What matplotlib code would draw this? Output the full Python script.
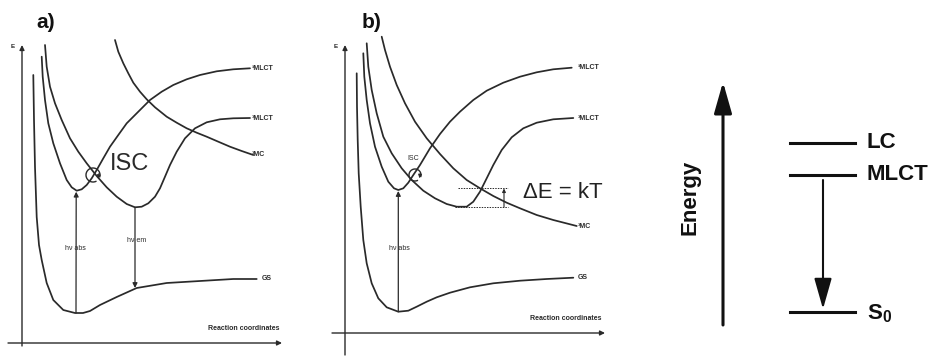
import matplotlib
matplotlib.use("Agg")
import matplotlib.pyplot as plt
from matplotlib.patches import Arc

plt.rcParams['font.family'] = ['Liberation Sans', 'DejaVu Sans']
plt.rcParams['mathtext.fontset'] = 'custom'
plt.rcParams['mathtext.rm'] = 'Liberation Sans'
plt.rcParams['mathtext.bf'] = 'Liberation Sans:bold'

# ---- potential energy curves, panel a (canvas pixel coordinates: x right, y down) ----
a_gs = [(33.3, 75), (34, 120), (35, 167), (36.7, 217), (39, 245), (41.7, 260), (46.7, 283),
        (53.3, 300), (63.3, 310), (75, 313), (83, 313), (90, 311), (100, 305), (116.7, 297),
        (136.7, 288), (166.7, 283), (200, 281), (233.3, 279), (256.7, 279)]
a_1mlct = [(41.7, 56.7), (42.7, 76.7), (45, 100), (48.3, 123.3), (53.3, 143.3), (60, 163.3),
           (66.7, 180), (71.7, 187.3), (76.7, 190.7), (81.7, 189.3), (86.7, 185), (91.7, 178.3),
           (96.7, 170), (103.3, 158.3), (110, 146.7), (118.3, 135), (126.7, 123.3), (138.3, 111.7),
           (150, 100), (161.7, 91.7), (173.3, 85), (186.7, 79.3), (200, 75), (216.7, 71.3),
           (233.3, 69.3), (250, 68.3)]
a_3mlct = [(45, 45), (46.7, 66.7), (50, 86.7), (55, 103.3), (61.7, 120), (70, 138.3), (78.3, 151.7),
           (86.7, 163.3), (96.7, 176), (106.7, 187.3), (116.7, 196.7), (126.7, 204), (135, 207.3),
           (141.7, 206.7), (148.3, 203.3), (155, 196.7), (160, 188.3), (165, 176.7), (170, 165),
           (176.7, 151.7), (185, 138.3), (195, 128.3), (206.7, 122.3), (220, 119.3), (233.3, 118.3),
           (250, 118)]
a_3mc = [(115, 40), (118.3, 51.7), (123.3, 63.3), (128.3, 73.3), (133.3, 82.7), (140, 91.7),
         (146.7, 99.3), (155, 107.3), (166.7, 116.7), (176.7, 122.7), (186.7, 128.3), (196.7, 132.7),
         (206.7, 136.7), (218.3, 141.7), (230, 146.7), (241.7, 151), (253.3, 155)]

# ---- potential energy curves, panel b ----
b_gs = [(356.7, 73.3), (357, 106.7), (357.7, 140), (358.7, 173.3), (360.7, 206.7), (363.3, 240),
        (366.7, 263.3), (371.7, 283.3), (378.3, 298.3), (386.7, 307.3), (398.3, 311.7), (408.3, 310.7),
        (416.7, 306.7), (426.7, 301.7), (436.7, 297.3), (450, 292.7), (470, 287.3), (493.3, 283.3),
        (520, 280.7), (546.7, 279), (573.3, 277.7)]
b_1mlct = [(363.3, 53.3), (364.3, 76.7), (366.7, 100), (370, 123.3), (375, 146.7), (381.7, 166.7),
           (388.3, 181.7), (394, 188.3), (398.3, 190), (403.3, 188.3), (408.3, 182.7), (413.3, 175),
           (420, 165), (430, 148.3), (440, 134), (450, 121.7), (460, 111.7), (473.3, 100),
           (486.7, 90.7), (503.3, 82.7), (520, 76.7), (536.7, 72.3), (553.3, 69.3), (571.7, 67.7)]
b_3mlct = [(366.7, 43.3), (368.3, 66.7), (371.7, 90), (376.7, 113.3), (383.3, 136.7), (391.7, 153.3),
           (401.7, 168.3), (411.7, 180), (423.3, 190.7), (435, 198.3), (446.7, 204), (456.7, 206.7),
           (466.7, 206.7), (473.3, 201.7), (480, 191.7), (486.7, 178.3), (493.3, 165), (501.7, 150),
           (511.7, 137.3), (523.3, 128.3), (536.7, 122.7), (553.3, 119.3), (573.3, 118)]
b_3mc = [(381.7, 36.7), (385, 50), (390, 66.7), (396.7, 85), (405, 103.3), (415, 121.7),
         (426.7, 138.3), (440, 154), (453.3, 168.3), (466.7, 180), (480, 188.3), (493.3, 196),
         (506.7, 202.7), (520, 208.3), (536.7, 215), (553.3, 220), (576.7, 226)]

curve_labels = ['\u00b9MLCT', '\u00b3MLCT', '\u00b3MC', 'GS']

# ---- simple energy level scheme ----
level_names = ['LC', 'MLCT', r'$\mathbf{S_0}$']
level_y = [143, 175, 312]

W, H = 933, 356
fig = plt.figure(figsize=(W / 100, H / 100), dpi=100)
ax = fig.add_axes([0, 0, 1, 1])
ax.set_xlim(0, W)
ax.set_ylim(H, 0)
ax.axis('off')

ink = '#2a2a2a'


def curve(pts, lw=1.25):
    xs = [p[0] for p in pts]
    ys = [p[1] for p in pts]
    ax.plot(xs, ys, color=ink, lw=lw, solid_capstyle='round', solid_joinstyle='round')


def arrow(x0, y0, x1, y1, lw=0.9, ms=7, color=ink, style='-|>'):
    ax.annotate('', xy=(x1, y1), xytext=(x0, y0),
                arrowprops=dict(arrowstyle=style, lw=lw, color=color, mutation_scale=ms,
                                shrinkA=0, shrinkB=0))


def isc_loop(cx, cy, r):
    ax.add_patch(Arc((cx, cy), 2 * r, 2 * r, theta1=60, theta2=380, color=ink, lw=1.0))
    arrow(cx + r * 0.85, cy - r * 0.2, cx + r * 0.75, cy + r * 0.55, lw=0.8, ms=5)


def panel(x0, x1, yax_x, yax_top, yax_bot, xax_y, curves, lab_x, gs_lab_x, tag, tag_x, rc_x):
    # axes
    arrow(yax_x, yax_bot, yax_x, yax_top, lw=1.0, ms=7)
    arrow(x0, xax_y, x1, xax_y, lw=1.0, ms=7)
    ax.text(yax_x - 9, yax_top + 2, 'E', fontsize=4.5, fontweight='bold', color=ink,
            ha='center', va='center')
    ax.text(tag_x, 22, tag, fontsize=15, fontweight='bold', color='#111', ha='left', va='center')
    ax.text(rc_x, xax_y - 15, 'Reaction coordinates', fontsize=5, fontweight='bold', color=ink,
            ha='left', va='center')
    for pts in curves:
        curve(pts)
    for pts, name in zip(curves, curve_labels):
        lx = gs_lab_x if name == 'GS' else lab_x
        ax.text(lx, pts[-1][1], name, fontsize=5, fontweight='bold', color=ink,
                ha='left', va='center')


# panel a
panel(8, 282, 22, 45, 346, 343, [a_1mlct, a_3mlct, a_3mc, a_gs], 252, 262, 'a)', 36, 208)
arrow(a_gs[9][0] + 1, a_gs[9][1], a_1mlct[8][0] - 0.5, a_1mlct[8][1] + 1)
ax.text(75, 248, 'h\u03bd abs', fontsize=5, color=ink, ha='center', va='center')
arrow(a_3mlct[12][0], a_3mlct[12][1], a_3mlct[12][0], 288)
ax.text(137, 241, 'h\u03bd em', fontsize=5, color=ink, ha='center', va='center')
isc_loop(93, 175, 7)
ax.text(110, 164, 'ISC', fontsize=17, color=ink, ha='left', va='center')

# panel b
panel(332, 605, 345, 45, 355, 333, [b_1mlct, b_3mlct, b_3mc, b_gs], 578, 578, 'b)', 362, 530)
arrow(b_gs[10][0], b_gs[10][1], b_1mlct[8][0], b_1mlct[8][1] + 1)
ax.text(399, 248, 'h\u03bd abs', fontsize=5, color=ink, ha='center', va='center')
isc_loop(415, 175, 6)
ax.text(413, 158, 'ISC', fontsize=5, color=ink, ha='center', va='center')
ax.plot([458, 508], [187.5, 187.5], color=ink, lw=0.7, ls=(0, (1.5, 1.2)))
ax.plot([455, 508], [207.3, 207.3], color=ink, lw=0.7, ls=(0, (1.5, 1.2)))
arrow(504, 207, 504, 188.5, lw=0.8, ms=5)
ax.text(523, 193, '\u0394E = kT', fontsize=16, color='#222', ha='left', va='center')

# panel c: energy level scheme
big_head = '-|>,head_length=0.95,head_width=0.27'
arrow(723, 325, 723, 82, lw=2.2, ms=20, color='#111', style=big_head)
ax.text(690, 197, 'Energy', fontsize=16, fontweight='bold', rotation=90, color='#111',
        ha='center', va='center')
for name, y in zip(level_names, level_y):
    ax.plot([790, 855], [y, y], color='#111', lw=2.2)
    ax.text(867, y + (2 if name.startswith('$') else 0), name, fontsize=16, fontweight='bold',
            color='#111', ha='left', va='center')
arrow(823, level_y[1] + 5, 823, level_y[2] - 3, lw=1.5, ms=20, color='#111', style=big_head)

fig.savefig('out.png', dpi=100, facecolor='white')
